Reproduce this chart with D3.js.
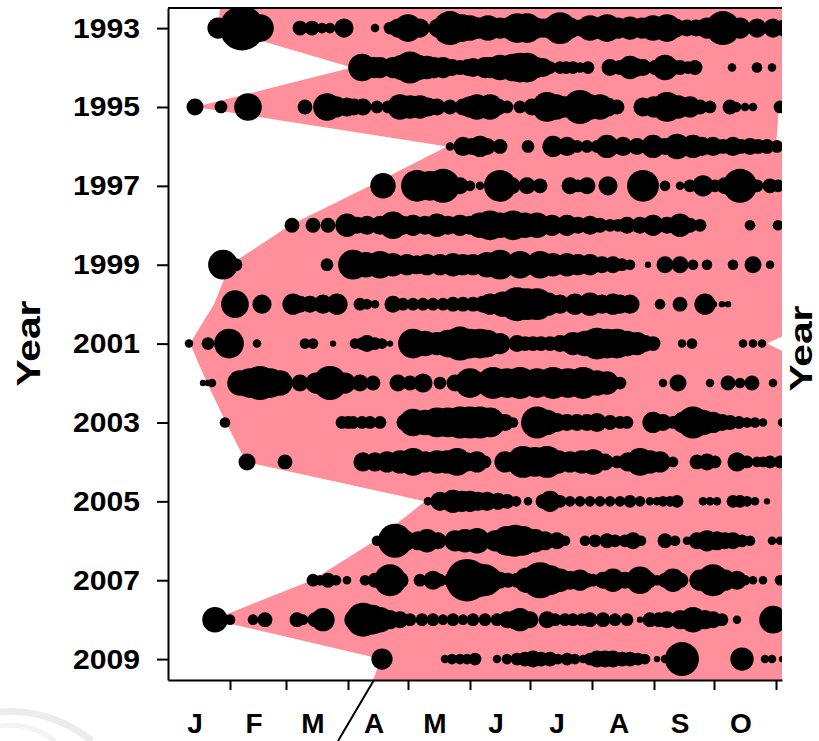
<!DOCTYPE html>
<html>
<head>
<meta charset="utf-8">
<script src="https://cdn.jsdelivr.net/npm/d3@7"></script>
<style>
  html, body { margin: 0; padding: 0; background: #fff; }
  svg { display: block; }
  text { font-family: "Liberation Sans", Arial, sans-serif; font-weight: bold; }
</style>
</head>
<body>
<svg id="chart" width="819" height="741"></svg>
<script>
// ---------------- DATA ----------------
// Each dot: [day of year, abundance]
const d1993 = [[25,100],[37,441],[46,169],[66,49],[72,49],[77,25],[81,25],[88,81],[103.5,16],[111,36],[115,81],[120,169],[126,81],[135,81],[141,256],[147,169],[151,144],[155,100],[160,144],[166,100],[170,100],[174.5,196],[179.5,196],[184,100],[187.5,81],[191,100],[196,225],[201,100],[206,64],[211,144],[215,100],[219.5,169],[225,100],[231,121],[237,100],[242.5,144],[249.5,169],[254,81],[259.5,64],[264,64],[269.5,100],[277.5,256],[286,100],[294.5,81],[302.5,81],[308,64]];
const d1994 = [[97,169],[103,100],[106,100],[112.5,100],[117,144],[121,225],[125,144],[129.5,121],[133,100],[137.5,100],[142,64],[146,49],[150,64],[152.5,81],[158.5,100],[161,100],[166,144],[172.5,169],[176,196],[179.5,196],[184,100],[187.5,81],[191,36],[196,36],[199,36],[202.5,36],[206,25],[210,36],[221,64],[226,49],[231,121],[234,81],[237.5,64],[243.5,49],[248.5,144],[252,64],[256,49],[260,36],[263.5,49],[282,16],[294.5,25],[302,16]];
const d1995 = [[13.5,64],[26.5,36],[40,169],[68.5,49],[79.5,169],[84,100],[89.5,81],[93,64],[97.5,64],[104.5,36],[110,36],[116,144],[121,121],[126,121],[130,81],[134.5,64],[141,49],[147.5,64],[151,100],[154.5,144],[161,144],[165,64],[169.5,36],[176,36],[182,64],[189.5,196],[194,144],[198.5,100],[206,256],[211,144],[216,144],[220,81],[224.5,49],[237.5,81],[243,100],[249.5,196],[255,121],[261,100],[266,49],[271,36],[281,49],[284,25],[288.5,16],[292.5,16],[306,36]];
const d1996 = [[141,16],[147.5,81],[152,64],[156,100],[159.5,64],[166,49],[180,36],[192.5,100],[199.5,81],[204.5,36],[209.5,36],[214.5,36],[219.5,121],[227.5,81],[234.5,64],[242.5,121],[248.5,64],[254.5,144],[262.5,121],[267,81],[272.5,81],[277.5,49],[282.5,81],[286.5,49],[291,64],[295,49],[299.5,49],[304.5,36]];
const d1997 = [[107.5,144],[124.5,225],[131,196],[137.5,256],[146,64],[151,25],[156,16],[166,225],[172,64],[179.5,64],[186,49],[201,64],[205,36],[209.5,64],[220,81],[237.5,225],[248.5,25],[256,16],[261,36],[267.5,100],[273.5,36],[278.5,64],[286,256],[294.5,36],[301,49],[305,36]];
const d1998 = [[62,49],[72.5,49],[80,49],[89.5,121],[94.5,64],[99.5,81],[106,81],[112.5,169],[117.5,81],[122.5,100],[128.5,81],[134.5,121],[140,81],[146,100],[151,81],[156,144],[161,196],[166,144],[172.5,196],[178.5,144],[184.5,144],[192,100],[199.5,100],[205,64],[211,81],[216,49],[221,36],[225,36],[229.5,64],[236,64],[242.5,100],[249.5,64],[256,121],[261,49],[266,36],[291,25],[305,25]];
const d1999 = [[27.5,196],[34,36],[79.5,36],[92.5,196],[99,144],[106,169],[112.5,121],[119.5,100],[124.5,81],[129.5,100],[136,100],[142.5,121],[147.5,100],[152.5,100],[159.5,144],[166,196],[176,169],[186,169],[192.5,121],[199.5,121],[205,100],[211,100],[217,64],[222.5,64],[227,36],[231,25],[240,9],[248.5,64],[256,64],[262.5,25],[269.5,25],[282.5,25],[292.5,64],[301,16]];
const d2000 = [[33.5,169],[47,81],[62.5,100],[66,64],[71,64],[77.5,81],[84.5,100],[96,36],[99.5,25],[103.5,16],[112.5,64],[117.5,36],[122.5,36],[127.5,36],[132.5,36],[137.5,36],[142.5,49],[147.5,49],[152.5,49],[157.5,64],[161,100],[167.5,144],[174.5,256],[179.5,225],[184.5,225],[190,121],[196,81],[203.5,100],[211,121],[217,81],[222.5,100],[226,81],[231,81],[246,25],[256,49],[268.5,100],[273,9],[277,9],[280,9]];
const d2001 = [[10.5,16],[20,36],[30.5,196],[44.5,16],[68.5,25],[72.5,25],[82.5,9],[93.5,25],[97,36],[99.5,64],[103.5,36],[107,25],[111,9],[122.5,196],[128.5,144],[134.5,121],[140,169],[146,256],[151,196],[156,196],[159.5,169],[166,100],[174.5,64],[178.5,49],[182.5,49],[186.5,49],[191,49],[196,64],[202.5,121],[208.5,144],[214.5,225],[219.5,196],[224.5,196],[229.5,144],[234.5,121],[238.5,64],[242.5,49],[257,16],[262,25],[287.5,16],[292.5,16],[297,16]];
const d2002 = [[17.5,9],[20,9],[22,16],[36,144],[41,196],[46,256],[51,196],[56,144],[66,64],[74,100],[81,256],[88.5,100],[96,64],[102.5,49],[115,64],[121,49],[127.5,81],[136,36],[143.5,64],[151,196],[160,144],[162.5,225],[169.5,196],[176,225],[184.5,196],[192.5,225],[200,196],[207.5,225],[214.5,144],[219.5,121],[226,36],[247.5,16],[255,64],[271,16],[280,49],[286,25],[292,49],[302.5,16]];
const d2003 = [[28.5,25],[87,36],[90,36],[92.5,36],[97,36],[101,36],[106,36],[118.5,64],[122.5,169],[128.5,144],[134.5,196],[140,196],[146,225],[151,225],[156,225],[161,196],[168.5,64],[172.5,25],[184.5,225],[189.5,144],[194.5,81],[199.5,64],[204.5,64],[209.5,64],[214.5,81],[221,49],[226,36],[229.5,36],[242.5,100],[247.5,64],[252.5,36],[257.5,100],[262.5,225],[267.5,144],[272.5,100],[277,64],[281,49],[285.5,36],[289.5,25],[293.5,25],[297.5,16],[307,16]];
const d2004 = [[39.5,64],[58.5,49],[97.5,81],[103.5,81],[109.5,100],[116,121],[122.5,169],[128.5,100],[134.5,121],[139.5,121],[144.5,169],[149.5,81],[154.5,100],[158.5,36],[168.5,100],[177.5,225],[183.5,196],[189.5,225],[195,121],[201,100],[207,121],[212.5,144],[218.5,64],[224.5,36],[230,81],[236,169],[241,121],[246,100],[252.5,25],[264.5,49],[269.5,64],[273.5,36],[284.5,81],[289.5,36],[294.5,25],[297.5,25],[301,36],[306,36]];
const d2005 = [[130,16],[136,81],[142.5,121],[147,100],[151,100],[155,81],[159.5,81],[165,64],[169.5,49],[174,25],[180,16],[187.5,49],[191,100],[196,36],[201,25],[206,25],[211,25],[216,25],[221,25],[226,25],[231,36],[236,25],[241,16],[244.5,16],[247.5,25],[251,25],[254.5,36],[267.5,16],[271,16],[274.5,16],[282.5,36],[286,36],[289.5,25],[293.5,16],[299.5,9]];
const d2006 = [[104.5,25],[113.5,256],[118.5,100],[125,81],[129.5,121],[135,64],[143.5,100],[148.5,121],[154.5,144],[157.5,64],[163.5,100],[169.5,196],[173.5,225],[177.5,196],[183.5,121],[188.5,81],[194.5,64],[198.5,25],[208.5,25],[213.5,36],[219.5,49],[223.5,36],[228.5,36],[232.5,64],[236.5,25],[248.5,49],[253.5,25],[259.5,16],[264.5,64],[269.5,100],[274.5,81],[278.5,64],[282.5,64],[287,36],[291,25],[302,16],[306,16]];
const d2007 = [[72.5,36],[76,25],[80,49],[84,25],[89.5,16],[98.5,25],[103.5,49],[111,225],[116,64],[126,36],[132.5,81],[136,36],[143.5,100],[149.5,400],[155,256],[158.5,225],[161,144],[166,64],[170,49],[174.5,49],[179.5,144],[186,289],[191,196],[196,121],[201,81],[206,100],[209.5,49],[212.5,36],[217.5,64],[222.5,121],[228.5,64],[236,169],[240,64],[244.5,25],[248.5,49],[252.5,121],[256.5,49],[266,100],[272.5,225],[278.5,100],[284.5,81],[288.5,25],[292.5,16],[297.5,16],[306,25]];
const d2008 = [[23.5,144],[31,25],[42.5,25],[48.5,49],[64.5,49],[67.5,25],[73.5,49],[77.5,121],[93.5,100],[97.5,256],[102,196],[106,144],[111,81],[116,64],[121,36],[127,36],[132.5,36],[137.5,25],[142.5,36],[147.5,25],[152.5,36],[158.5,36],[164.5,36],[169.5,64],[173.5,81],[176,121],[181,64],[189.5,64],[193.5,36],[198.5,36],[202.5,36],[207,36],[211,49],[217.5,49],[223.5,36],[229.5,36],[236,9],[241,49],[245.5,49],[249.5,64],[256,81],[262.5,144],[268.5,81],[272.5,64],[277,36],[284.5,16],[302.5,169]];
const d2009 = [[107,100],[138.5,16],[142,25],[146,25],[149.5,25],[153.5,36],[164.5,16],[169.5,25],[174.5,36],[178.5,49],[182.5,64],[186.5,49],[191,49],[195,25],[199.5,36],[203.5,25],[207.5,16],[211,36],[214.5,64],[218.5,64],[222.5,64],[227,49],[231,49],[235,36],[238.5,25],[244.5,9],[248.5,16],[257,256],[287,121],[298.5,16],[302,16],[307,9]];

const years = [1993,1994,1995,1996,1997,1998,1999,2000,2001,2002,2003,2004,2005,2006,2007,2008,2009];
const dotsByYear = [d1993,d1994,d1995,d1996,d1997,d1998,d1999,d2000,d2001,d2002,d2003,d2004,d2005,d2006,d2007,d2008,d2009];

// Season envelope (first / last day of year), one value per year
const envYears = [1992,1993,1994,1995,1996,1997,1998,1999,2000,2001,2002,2003,2004,2005,2006,2007,2008,2009,2010];
const envStart = [27,25,92,13.5,139.5,101,61,31,23,11,19.5,29,39,128.5,103.5,72,22.5,106.5,99];
const envEnd   = [360,350,317.5,305.5,304,345,350,350,341,299.5,341,350,350,350,350,350,350,350,350];

const yTickYears = [1993,1995,1997,1999,2001,2003,2005,2007,2009];
const monthLabels = ["J","F","M","A","M","J","J","A","S","O"];
const monthStarts = [0,31,59,90,120,151,181,212,243,273,304];

// ---------------- CHART ----------------
const svg = d3.select("#chart");
const x = d3.scaleLinear().domain([0, 307]).range([168, 782]);
const y = d3.scaleLinear().domain([1992.49, 2009.53]).range([8, 680]);
const r = d3.scaleSqrt().domain([0, 441]).range([0, 22.3]);

svg.append("rect").attr("width", 819).attr("height", 741).attr("fill", "#fff");

// faint background swoosh (bottom-left)
svg.append("path")
  .attr("d", "M0,712 Q50,708 92,741")
  .attr("fill", "none").attr("stroke", "#ececec").attr("stroke-width", 7);
svg.append("path")
  .attr("d", "M0,726 Q30,722 55,741")
  .attr("fill", "none").attr("stroke", "#f3f3f3").attr("stroke-width", 5);

svg.append("clipPath").attr("id", "plotClip")
  .append("rect").attr("x", 168).attr("y", 8).attr("width", 782 - 168).attr("height", 680 - 8);

const plot = svg.append("g").attr("clip-path", "url(#plotClip)");

// envelope polygon
const left = envYears.map((yr, i) => [x(envStart[i]), y(yr)]);
const right = envYears.map((yr, i) => [x(envEnd[i]), y(yr)]).reverse();
plot.append("path")
  .attr("d", d3.line()(left.concat(right)) + "Z")
  .attr("fill", "#ff8f9a");

// dots
years.forEach((yr, i) => {
  plot.append("g").selectAll("circle")
    .data(dotsByYear[i])
    .join("circle")
    .attr("cx", d => x(d[0]))
    .attr("cy", y(yr))
    .attr("r", d => r(d[1]))
    .attr("fill", "#000");
});

// top frame line
svg.append("line")
  .attr("x1", x.range()[0]).attr("x2", x.range()[1])
  .attr("y1", y.range()[0]).attr("y2", y.range()[0])
  .attr("stroke", "#000").attr("stroke-width", 2);

// left axis
const yAxis = svg.append("g")
  .attr("transform", `translate(${x.range()[0]},0)`)
  .call(d3.axisLeft(y).tickValues(yTickYears).tickFormat(d3.format("d")).tickSize(11).tickSizeOuter(0).tickPadding(17));
yAxis.select(".domain").attr("stroke", "#000").attr("stroke-width", 2);
yAxis.selectAll(".tick line").attr("stroke", "#000").attr("stroke-width", 2);
yAxis.selectAll(".tick text")
  .attr("fill", "#000")
  .style("font-size", "28px")
  .style("font-family", "'Liberation Sans', Arial, sans-serif")
  .style("font-weight", "bold")
  .attr("textLength", 67).attr("lengthAdjust", "spacingAndGlyphs");

// bottom axis
const xAxis = svg.append("g")
  .attr("transform", `translate(0,${y.range()[1]})`)
  .call(d3.axisBottom(x).tickValues(monthStarts.slice(1)).tickFormat("").tickSize(10).tickSizeOuter(0));
xAxis.select(".domain").attr("stroke", "#000").attr("stroke-width", 2);
xAxis.selectAll(".tick line").attr("stroke", "#000").attr("stroke-width", 2);

// month labels
svg.append("g").selectAll("text")
  .data(monthLabels)
  .join("text")
  .attr("x", (d, i) => (x(monthStarts[i]) + x(monthStarts[i + 1])) / 2 - 4)
  .attr("y", 733)
  .attr("text-anchor", "middle")
  .style("font-size", "28px")
  .attr("fill", "#000")
  .text(d => d);

// axis titles
svg.append("text")
  .attr("transform", `translate(40,${y(2001)}) rotate(-90)`)
  .attr("text-anchor", "middle")
  .style("font-size", "33px")
  .attr("textLength", 86).attr("lengthAdjust", "spacingAndGlyphs")
  .attr("fill", "#000")
  .text("Year");
svg.append("text")
  .attr("transform", `translate(812,${y(2001) + 5}) rotate(-90)`)
  .attr("text-anchor", "middle")
  .style("font-size", "32px")
  .attr("textLength", 86).attr("lengthAdjust", "spacingAndGlyphs")
  .attr("fill", "#000")
  .text("Year");

// annotation pointer line
svg.append("line")
  .attr("x1", x(103)).attr("y1", y.range()[1])
  .attr("x2", x(103) - 36).attr("y2", 741)
  .attr("stroke", "#000").attr("stroke-width", 2);
</script>
</body>
</html>
